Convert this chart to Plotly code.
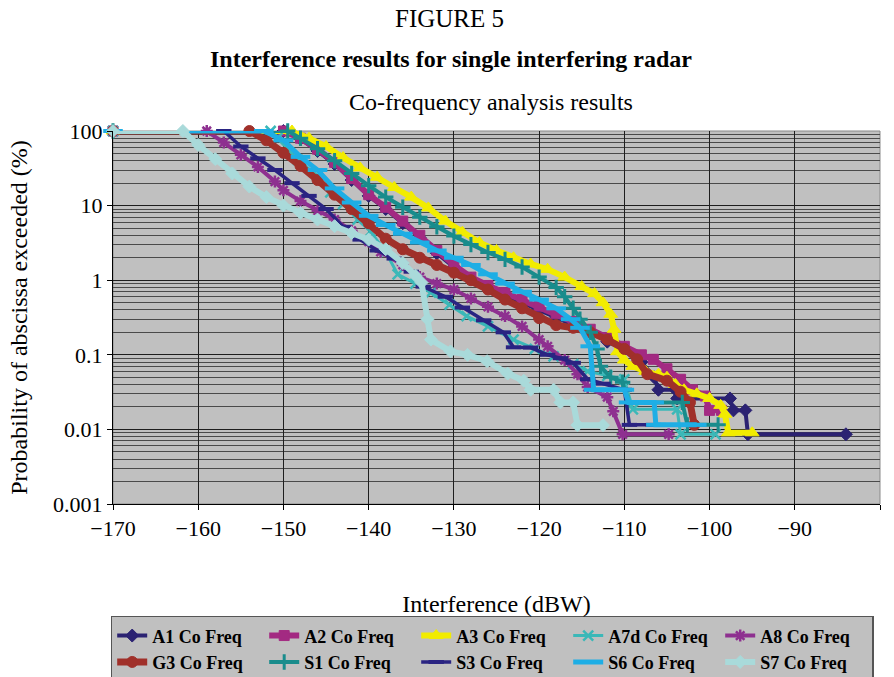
import plotly.graph_objects as go

# ---------------- data ----------------
names = ["A1 Co Freq", "A2 Co Freq", "A3 Co Freq", "A7d Co Freq", "A8 Co Freq",
         "G3 Co Freq", "S1 Co Freq", "S3 Co Freq", "S6 Co Freq", "S7 Co Freq"]

a1_x = [-170, -150, -148, -146, -144, -142, -140, -138, -136, -134, -132, -130, -128, -126, -124,
        -122, -120, -118, -116, -114, -112, -110, -108, -106.5, -106, -104, -103.8, -97.6, -97.2,
        -95.8, -95.5, -84]
a1_y = [100, 100, 78, 54, 36, 22, 13.5, 9, 5.8, 3.7, 2.3, 1.5, 1.05, 0.8, 0.62,
        0.5, 0.4, 0.32, 0.25, 0.2, 0.15, 0.12, 0.08, 0.05, 0.034, 0.034, 0.026, 0.026, 0.018,
        0.018, 0.0086, 0.0086]

a2_x = [-170, -150, -148, -146, -144, -142, -140, -138, -136, -134, -132, -130, -128, -126, -124,
        -122, -120, -118, -116, -114, -112, -110, -108, -106.6, -105, -103.4, -102, -100.5, -100, -98.6]
a2_y = [100, 100, 80, 57, 38, 23, 14, 9.5, 6.2, 4.0, 2.5, 1.6, 1.1, 0.85, 0.68,
        0.55, 0.45, 0.36, 0.28, 0.22, 0.17, 0.13, 0.1, 0.087, 0.065, 0.047, 0.034, 0.028, 0.018, 0.018]

a3_x = [-170, -149, -147, -145, -143, -141, -139, -137, -135, -133, -131, -129, -127, -125, -123,
        -121, -119, -117, -115, -113.5, -112.5, -111.6, -111.2, -110.8, -110, -109, -107.5, -106,
        -105, -104, -103, -101.5, -100, -98.7, -98.2, -97.8, -95]
a3_y = [100, 100, 80, 62, 44, 32, 24, 17.5, 13, 9.3, 6.2, 4.4, 3.2, 2.5, 2.0,
        1.65, 1.4, 1.1, 0.82, 0.66, 0.5, 0.35, 0.22, 0.11, 0.085, 0.07, 0.06, 0.055,
        0.05, 0.04, 0.034, 0.03, 0.026, 0.021, 0.016, 0.009, 0.009]

a7d_x = [-170, -151.5, -150.7, -148.3, -146, -144.5, -143, -141.3, -139.8, -138, -136.6, -134.5,
         -132.7, -130.5, -128.5, -126, -123, -120.5, -118.3, -116, -114.3, -112, -110, -109,
         -103.8, -103.4, -99.3]
a7d_y = [100, 100, 80, 41, 25, 15, 10.5, 6.5, 4.5, 2.4, 1.2, 0.9,
         0.68, 0.47, 0.33, 0.24, 0.16, 0.12, 0.095, 0.075, 0.06, 0.052, 0.047, 0.0186,
         0.0186, 0.0086, 0.0086]

a8_x = [-170, -159, -157, -155, -153, -151, -150, -148, -146, -144, -142, -140, -138.6, -136,
        -134, -132, -130, -128, -126, -124, -122, -120, -119, -117, -115.5, -114.3, -112,
        -111.3, -110.2, -104.8]
a8_y = [100, 100, 70, 48, 33, 21, 16, 11.5, 8.5, 6.5, 4.6, 3.3, 2.4, 1.6,
        1.1, 0.9, 0.75, 0.57, 0.44, 0.33, 0.24, 0.16, 0.13, 0.085, 0.055, 0.037, 0.027,
        0.0175, 0.0086, 0.0086]

g3_x = [-170, -154, -152, -150, -148, -146, -144, -142, -140, -138, -136, -134, -132, -130, -128,
        -126, -124, -122, -120, -118, -116, -114, -112, -110, -108.5, -107.3, -105, -103.4,
        -102.3, -101.8]
g3_y = [100, 100, 75, 51, 34, 22, 14, 9, 5.8, 3.6, 2.6, 2.0, 1.6, 1.26, 1.0,
        0.75, 0.55, 0.42, 0.31, 0.25, 0.23, 0.2, 0.16, 0.12, 0.087, 0.055, 0.045, 0.032,
        0.023, 0.0115]

s1_x = [-170, -149.5, -148, -146, -144, -142, -140, -138, -136, -134, -132, -130, -128, -126, -124,
        -122, -120, -118, -117, -116, -115.2, -114, -113.2, -112.8, -111.6, -110.2, -109.6,
        -103.2, -102.6, -99]
s1_y = [100, 100, 80, 58, 40, 27, 18.5, 13, 9.5, 7, 5.2, 3.9, 3.0, 2.35, 1.9,
        1.5, 1.1, 0.8, 0.6, 0.42, 0.3, 0.2, 0.12, 0.07, 0.05, 0.043, 0.023,
        0.023, 0.0115, 0.0115]

s3_x = [-170, -157, -155, -153, -151, -149, -147, -145, -143, -141, -139, -137, -135, -133.6,
        -131, -129, -126.5, -124.2, -123, -121, -119, -117.5, -116, -114.3, -112.5, -110,
        -109.4, -106.6]
s3_y = [100, 100, 62, 43, 30, 20, 13.5, 9, 5.2, 3.5, 2.5, 1.95, 1.3, 0.82,
        0.6, 0.43, 0.29, 0.2, 0.126, 0.125, 0.1, 0.09, 0.078, 0.047, 0.041, 0.034,
        0.0115, 0.0115]

s6_x = [-170, -152.3, -150, -148, -146, -144, -142, -140, -138, -136, -134, -132, -130, -128,
        -126, -124, -122, -120, -118, -116.3, -115.2, -114, -113.6, -110, -109.5, -106.5,
        -106.3, -101.5]
s6_y = [100, 100, 75, 45, 30, 17, 11, 7.3, 5.5, 4.2, 3.2, 2.5, 2.0, 1.6,
        1.2, 0.9, 0.7, 0.55, 0.42, 0.3, 0.23, 0.13, 0.034, 0.034, 0.023, 0.023,
        0.0115, 0.0115]

s7_x = [-170, -161.8, -160, -158, -156, -154, -152, -150, -148, -146, -144, -142, -140, -138,
        -136, -134.5, -133.8, -133.1, -132.7, -130.4, -128.4, -126.1, -123.7, -121.8, -121,
        -118.3, -117.5, -116, -115.5, -112.5]
s7_y = [100, 100, 65, 42, 27, 18, 13, 10, 8, 6.5, 5.3, 4.3, 3.5, 2.6,
        1.7, 1.15, 0.93, 0.3, 0.16, 0.111, 0.1, 0.082, 0.056, 0.045, 0.034,
        0.034, 0.023, 0.023, 0.0114, 0.0114]

xs = [a1_x, a2_x, a3_x, a7d_x, a8_x, g3_x, s1_x, s3_x, s6_x, s7_x]
ys = [a1_y, a2_y, a3_y, a7d_y, a8_y, g3_y, s1_y, s3_y, s6_y, s7_y]

y_tickvals = [0.001, 0.01, 0.1, 1, 10, 100]
y_ticktext = ["0.001", "0.01", "0.1", "1", "10", "100"]

# ---------------- styles ----------------
colors = ["#2B2272", "#A32A82", "#F2EC00", "#3BB8B8", "#8E3090",
          "#A0302A", "#198C8C", "#2A2482", "#1EAEE5", "#A9DADA"]
symbols = ["diamond", "square", "triangle-up", "x-thin-open", "asterisk-open",
           "circle", "cross-thin-open", "line-ew-open", "line-ew-open", "diamond"]
msizes = [10, 10, 12, 10, 10, 11, 11, 11, 14, 10]
mlines = [1, 1, 1, 2.5, 2.5, 1, 3, 4, 4, 1]
lwidths = [4, 6, 6, 3, 4, 7, 4, 3.5, 5, 6]

SERIF = "Liberation Serif"

fig = go.Figure()
for i in range(len(names)):
    fig.add_trace(go.Scatter(
        x=xs[i], y=ys[i], name=names[i], mode="lines+markers",
        line=dict(color=colors[i], width=lwidths[i]),
        marker=dict(symbol=symbols[i], size=msizes[i], color=colors[i],
                    line=dict(color=colors[i], width=mlines[i])),
        cliponaxis=False,
    ))

PT, PB = 130.5, 504  # plot area top / bottom in pixels
PH = PB - PT


def py(pix):
    return (PB - pix) / PH


fig.update_layout(
    width=894, height=677,
    margin=dict(l=112.5, r=14, t=PT, b=677 - PB, autoexpand=False),
    paper_bgcolor="white",
    plot_bgcolor="#C0C0C0",
    font=dict(family=SERIF, size=22, color="black"),
    showlegend=True,
    legend=dict(orientation="h", x=-0.003, xanchor="left", y=py(616), yanchor="top",
                bgcolor="#C0C0C0", bordercolor="#555555", borderwidth=1.5,
                font=dict(family=SERIF, size=18, color="black", weight="bold"),
                entrywidth=107, entrywidthmode="pixels", itemwidth=30,
                traceorder="normal"),
    annotations=[
        dict(text="FIGURE 5", xref="paper", yref="paper", x=(449 - 112.5) / 767.5, y=py(18),
             xanchor="center", yanchor="middle", showarrow=False,
             font=dict(family=SERIF, size=25, color="black")),
        dict(text="<b>Interference results for single interfering radar</b>", xref="paper",
             yref="paper", x=(451 - 112.5) / 767.5, y=py(58), xanchor="center", yanchor="middle",
             showarrow=False, font=dict(family=SERIF, size=24, color="black")),
        dict(text="Co-frequency analysis results", xref="paper", yref="paper",
             x=(491 - 112.5) / 767.5, y=py(101), xanchor="center", yanchor="middle",
             showarrow=False, font=dict(family=SERIF, size=24, color="black")),
    ],
    shapes=[dict(type="rect", xref="paper", yref="paper", x0=0, x1=1, y0=0, y1=1,
                 line=dict(color="#8a8a8a", width=1), layer="below")],
)

fig.update_xaxes(
    range=[-170, -80], dtick=10, tick0=-170,
    showgrid=True, gridcolor="#1e1e1e", gridwidth=1,
    showline=True, linecolor="black", linewidth=1,
    ticks="outside", ticklen=5, tickcolor="black",
    zeroline=False,
    tickfont=dict(family=SERIF, size=22, color="black"),
    title=dict(text="Interference (dBW)", standoff=54,
               font=dict(family=SERIF, size=24, color="black")),
)
fig.update_yaxes(
    type="log", range=[-3, 2],
    tickvals=y_tickvals, ticktext=y_ticktext,
    showgrid=True, gridcolor="#1e1e1e", gridwidth=1,
    minor=dict(dtick="D1", showgrid=True, gridcolor="#4a4a4a", gridwidth=1, ticks=""),
    showline=True, linecolor="black", linewidth=1,
    ticks="outside", ticklen=5, tickcolor="black",
    zeroline=False,
    tickfont=dict(family=SERIF, size=22, color="black"),
    title=dict(text="Probability of abscissa exceeded (%)", standoff=18,
               font=dict(family=SERIF, size=24, color="black")),
)

fig.write_html("out.html")
